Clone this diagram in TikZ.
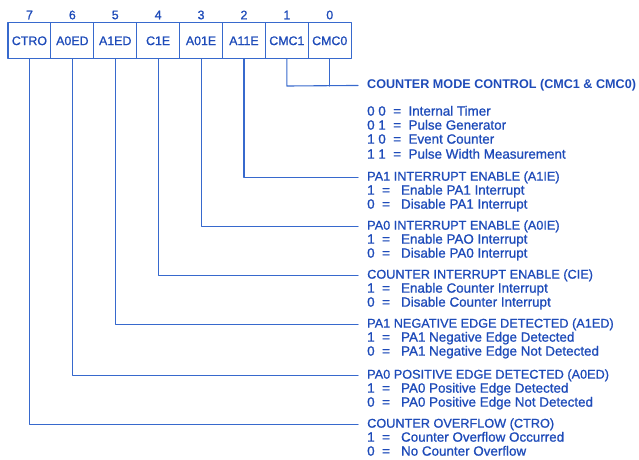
\documentclass[tikz,border=0pt]{standalone}
\usepackage{fontspec}
\setmainfont{Liberation Sans}[UprightFeatures={FakeBold=1}]
\definecolor{ink}{RGB}{30,75,185}
\definecolor{rule}{RGB}{55,105,205}
\begin{document}
\begin{tikzpicture}[x=1pt, y=-1pt, line join=round, line cap=round,
  font=\fontsize{12.4}{14}\selectfont, text=ink,
  bitbox/.style={draw=rule, line width=1.1pt, minimum width=42.9pt, minimum height=36pt, inner sep=0pt},
  bitnum/.style={inner sep=0pt},
  heading/.style={anchor=mid west, inner sep=0pt, font=\fontsize{12.7}{14}\selectfont},
  subline/.style={anchor=mid west, inner sep=0pt, font=\fontsize{13.4}{14}\selectfont},
  lead/.style={draw=rule, line width=1.1pt, shorten >=9pt}]
\useasboundingbox (0,0) rectangle (639,459);
\def\bw{42.9}
% register
\foreach \n/\lab [count=\i from 0] in {7/CTRO, 6/A0ED, 5/A1ED, 4/C1E, 3/A01E, 2/A11E, 1/CMC1, 0/CMC0}{
  \node[bitbox] (b\n) at (8+\i*\bw+\bw/2, 40.8) {\lab};
  \node[bitnum] (n\n) at (8+\i*\bw+\bw/2, 15) {\n};
}
% counter mode control
\node[heading, font=\fontsize{12.6}{14}\bfseries] (d1) at (367,86) {COUNTER MODE CONTROL (CMC1 \& CMC0)};
\foreach \v/\txt/\y in {0 0/Internal Timer/113, 0 1/Pulse Generator/127, 1 0/Event Counter/141, 1 1/Pulse Width Measurement/156}{
  \node[subline] at (367,\y) {\v\ \ =\ \ \txt};
}
\coordinate (j) at (b1.south |- 0,86);
\draw[rule, line width=1.1pt] (b0.south) -- (b0.south |- j);
\draw[lead] (b1.south) -- (j) -- (d1.west);
% the other bits
\foreach \b/\y/\head/\one/\zero in {
  2/178/PA1 INTERRUPT ENABLE (A1IE)/Enable PA1 Interrupt/Disable PA1 Interrupt,
  3/227/PA0 INTERRUPT ENABLE (A0IE)/Enable PAO Interrupt/Disable PA0 Interrupt,
  4/276/COUNTER INTERRUPT ENABLE (CIE)/Enable Counter Interrupt/Disable Counter Interrupt,
  5/325/PA1 NEGATIVE EDGE DETECTED (A1ED)/PA1 Negative Edge Detected/PA1 Negative Edge Not Detected,
  6/376/PA0 POSITIVE EDGE DETECTED (A0ED)/PA0 Positive Edge Detected/PA0 Positive Edge Not Detected,
  7/425/COUNTER OVERFLOW (CTRO)/Counter Overflow Occurred/No Counter Overflow}{
  \node[heading] (d\b) at (367,\y) {\head};
  \node[subline] (d\b one) at (367,\y+14) {1\ \ =\ \ \ \one};
  \node[subline] (d\b zero) at (367,\y+28) {0\ \ =\ \ \ \zero};
  \draw[lead] (b\b.south) |- (d\b.west);
}
\end{tikzpicture}
\end{document}
